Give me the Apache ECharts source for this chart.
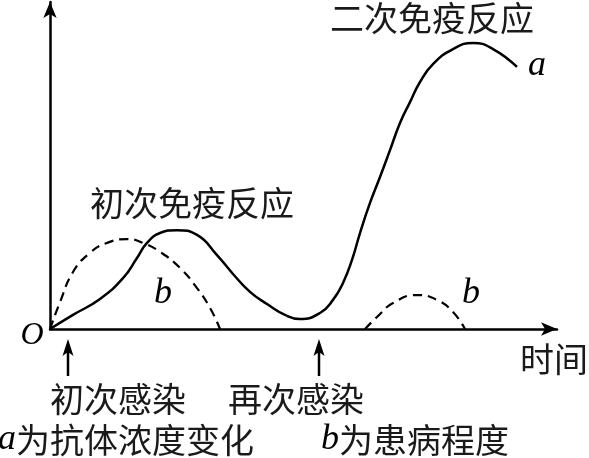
<!DOCTYPE html>
<html>
<head>
<meta charset="utf-8">
<script src="https://cdn.jsdelivr.net/npm/echarts@6/dist/echarts.min.js"></script>
<style>
html,body{margin:0;padding:0;background:#fff;}
#c{width:589px;height:458px;}
</style>
</head>
<body>
<div id="c"></div>
<script>
// Curve a: antibody concentration (time, level)
var curveA = [[0,0],[4.6,4.4],[10,9.4],[14.6,15.9],[17.4,22.2],[19.4,26.9],[22,30],[25.4,30.9],[29.4,29.4],[33.4,23.1],[36.6,17.2],[40,11.6],[43.4,7.8],[47,4.4],[50,3.1],[54,5],[56.6,9.1],[58.6,14.4],[60.4,21.6],[62,30],[64,39.4],[66,47.5],[68,55.9],[70,64.4],[72,70.9],[74,77.2],[76.6,82.8],[80.6,87.5],[84.6,89.4],[88.6,87.5],[93.4,81.9]];
// Curve b: illness level, first infection
var curveB1 = [[0,0],[2,8.4],[4.6,17.8],[8,23.8],[11.4,26.9],[15.4,28.1],[18.6,26.9],[22,24.1],[26,19.1],[29.4,12.8],[32,6.6],[34,0]];
// Curve b: illness level, second infection
var curveB2 = [[63,0],[65.4,3.75],[68.6,8.1],[73.4,10.6],[77.4,9.1],[80.6,5.3],[83,0]];

var peakLabels = ['初次免疫反应', '二次免疫反应'];
var eventLabels = ['初次感染', '再次感染'];
var axisXName = '时间';
var originName = 'O';
var legendA = ['a', '为抗体浓度变化'];
var legendB = ['b', '为患病程度'];

var CJK = '"Noto Sans CJK SC", "Noto Sans", sans-serif';
var SERIF = '"Liberation Serif", "DejaVu Serif", serif';

var chart = echarts.init(document.getElementById('c'), null, {renderer: 'canvas'});

function axisCommon(max) {
  return {
    type: 'value',
    min: 0,
    max: max,
    axisLine: {show: true, lineStyle: {color: '#000', width: 2.5}, symbol: ['none', 'arrow'], symbolSize: [10, 16]},
    axisTick: {show: false},
    axisLabel: {show: false},
    splitLine: {show: false}
  };
}

function arrow(x) {
  return {
    type: 'group',
    children: [
      {type: 'line', shape: {x1: x, y1: 376, x2: x, y2: 350}, style: {stroke: '#000', lineWidth: 2.5}},
      {type: 'polygon', shape: {points: [[x, 339], [x - 5.5, 356], [x, 352], [x + 5.5, 356]]}, style: {fill: '#000'}}
    ]
  };
}

function cjk(text, x, y) {
  return {type: 'text', x: x, y: y, style: {text: text, fontFamily: CJK, fontSize: 34, fill: '#1a1a1a', align: 'center', verticalAlign: 'middle'}};
}
function ital(text, x, y, size) {
  return {type: 'text', x: x, y: y, style: {text: text, fontFamily: SERIF, fontStyle: 'italic', fontSize: size, fill: '#000', align: 'center', verticalAlign: 'middle'}};
}
function legend(parts, x) {
  return {type: 'text', x: x, y: 440, style: {
    text: '{i|' + parts[0] + '}{c|' + parts[1] + '}',
    align: 'left', verticalAlign: 'middle',
    rich: {
      i: {fontFamily: SERIF, fontStyle: 'italic', fontSize: 36, fill: '#000'},
      c: {fontFamily: CJK, fontSize: 34, fill: '#1a1a1a'}
    }
  }};
}

var option = {
  animation: false,
  backgroundColor: '#fff',
  grid: {left: 50, right: 32, top: 2, bottom: 129},
  xAxis: axisCommon(101.4),
  yAxis: axisCommon(102.2),
  series: [
    {type: 'line', data: curveA, smooth: 0.5, symbol: 'none', lineStyle: {color: '#000', width: 2.5}, silent: true},
    {type: 'line', data: curveB1, smooth: 0.5, symbol: 'none', lineStyle: {color: '#000', width: 2.2, type: [9, 6]}, silent: true},
    {type: 'line', data: curveB2, smooth: 0.5, symbol: 'none', lineStyle: {color: '#000', width: 2.2, type: [9, 6]}, silent: true}
  ],
  graphic: [
    cjk(peakLabels[0], 192, 203),
    cjk(peakLabels[1], 432, 18),
    ital('a', 537, 66, 36),
    ital('b', 163, 294, 36),
    ital('b', 471, 294, 36),
    ital(originName, 32, 336, 32),
    cjk(axisXName, 554, 359),
    arrow(68),
    arrow(319),
    cjk(eventLabels[0], 118, 399),
    cjk(eventLabels[1], 296, 399),
    legend(legendA, -2),
    legend(legendB, 321)
  ]
};
chart.setOption(option);
</script>
</body>
</html>
